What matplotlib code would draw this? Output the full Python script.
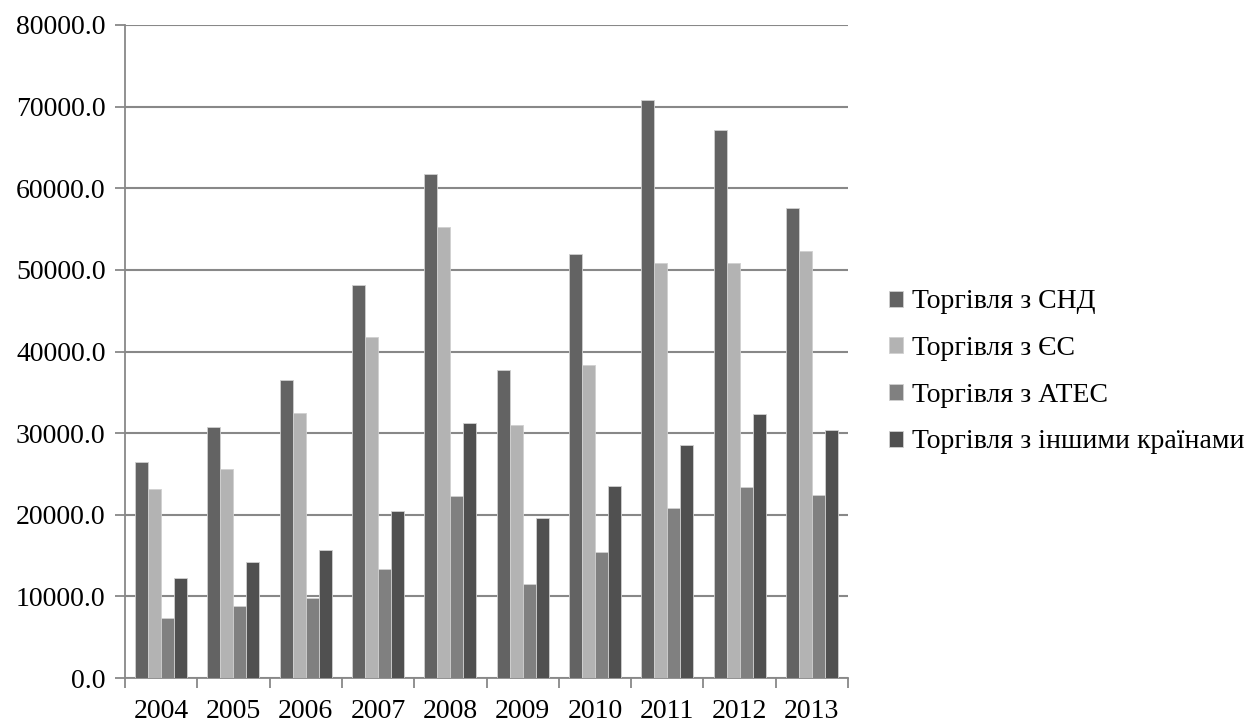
import matplotlib
matplotlib.use("Agg")
import matplotlib.pyplot as plt
import numpy as np

years = ["2004", "2005", "2006", "2007", "2008", "2009", "2010", "2011", "2012", "2013"]
cis = [26500, 30800, 36500, 48200, 61800, 37700, 52000, 70800, 67100, 57600]
eu = [23100, 25600, 32500, 41800, 55200, 31000, 38400, 50800, 50900, 52300]
apec = [7300, 8800, 9800, 13400, 22300, 11500, 15400, 20800, 23400, 22400]
other = [12200, 14200, 15700, 20500, 31300, 19600, 23500, 28500, 32400, 30400]

labels = ["Торгівля з СНД", "Торгівля з ЄС", "Торгівля з АТЕС", "Торгівля з іншими країнами"]
colors = ["#636363", "#b3b3b3", "#808080", "#505050"]
series = [cis, eu, apec, other]

plt.rcParams['font.family'] = ['Liberation Serif', 'DejaVu Serif']

fig = plt.figure(figsize=(12.48, 7.23), dpi=100)
ax = fig.add_axes([125/1248, 45/723, 723/1248, 653/723])

x = np.arange(len(years))
w = 0.18
for i, (s, c, l) in enumerate(zip(series, colors, labels)):
    ax.bar(x + (i - 1.5) * w, s, width=w, color=c, edgecolor="#d0d0d0", linewidth=0.6, label=l, zorder=3)

ax.set_xlim(-0.5, len(years) - 0.5)
ax.set_ylim(0, 80000)
ax.set_yticks(np.arange(0, 80001, 10000))
ax.set_yticklabels([f"{v:.1f}" for v in np.arange(0, 80001, 10000)], fontsize=20)
ax.yaxis.grid(True, color="#888888", linewidth=1.5, zorder=0)
ax.set_axisbelow(True)

ax.set_xticks(x)
ax.set_xticklabels(years, fontsize=20)
ax.set_xticks(np.arange(-0.5, len(years)), minor=True)
ax.tick_params(axis='x', which='major', length=0, pad=15)
ax.tick_params(axis='x', which='minor', length=7, color="#888888", width=1.3, direction='out')
ax.tick_params(axis='y', length=7, color="#888888", width=1.3, direction='out', pad=7)

for sp in ["top", "right"]:
    ax.spines[sp].set_visible(False)
for sp in ["left", "bottom"]:
    ax.spines[sp].set_color("#888888")
    ax.spines[sp].set_linewidth(1.3)

leg = fig.legend(loc="center left", bbox_to_anchor=(889/1248, 1 - 372/723), frameon=False, fontsize=20,
                 handlelength=0.5, handleheight=0.5, handletextpad=0.33, labelspacing=0.78,
                 borderpad=0, borderaxespad=0)

fig.savefig("out.png", dpi=100)
